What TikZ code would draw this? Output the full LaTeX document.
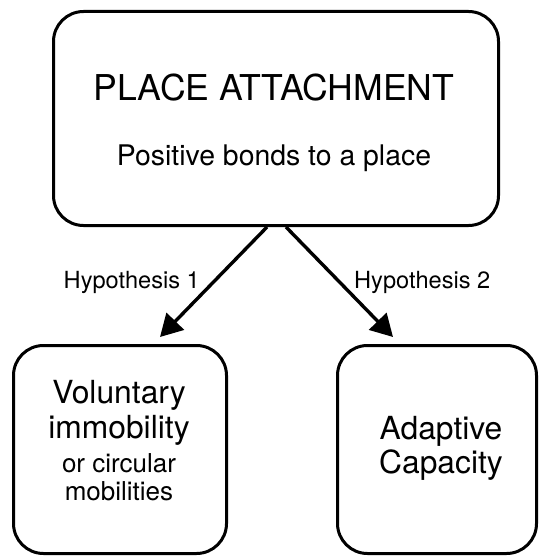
\documentclass[tikz,border=0pt]{standalone}
\usepackage{fontspec}
\setmainfont{TeX Gyre Heros}
\usepackage{tikz}
\usetikzlibrary{arrows.meta, positioning}

\begin{document}
\begin{tikzpicture}[
            x=0.5pt, y=-0.5pt, % one unit per pixel, y going down
            box/.style={draw, rounded corners=15pt, line width=1.5pt, inner sep=0pt},
            label/.style={anchor=base, inner sep=0pt},
            hypo/.style={font=\fontsize{11.8}{14}\selectfont, inner sep=0pt},
            >={Triangle[length=11pt, width=12pt]}
        ]
            \useasboundingbox (0,0) rectangle (540,556);

            \node [box, minimum width=222.5pt, minimum height=107pt] (attach) at (276,118.5) {};
            \node [box, minimum width=106.5pt, minimum height=104pt] (immob) at (120,449.5) {};
            \node [box, minimum width=99.5pt, minimum height=104pt] (adapt) at (437,449.5) {};

            % text inside the boxes
            \node [label, font=\fontsize{17.8}{20}\selectfont] (title) at (274,100) {PLACE ATTACHMENT};
            \node [label, font=\fontsize{14.2}{17}\selectfont] (bonds) at (274,165) {Positive bonds to a place};

            \node [label, font=\fontsize{15.9}{18}\selectfont] (vol) at (119,403) {Voluntary};
            \node [label, font=\fontsize{15.9}{18}\selectfont] (imm) at (119,438) {immobility};
            \node [label, font=\fontsize{13}{15}\selectfont] (circ) at (119,472) {or circular};
            \node [label, font=\fontsize{13}{15}\selectfont] (mob) at (119,500) {mobilities};

            \node [label, font=\fontsize{15.9}{18}\selectfont] (adap) at (441,439) {Adaptive};
            \node [label, font=\fontsize{15.9}{18}\selectfont] (capa) at (441,473) {Capacity};

            \draw [->, line width=1.7pt] ([xshift=-4.5pt]attach.south) -- ([xshift=20pt, yshift=3.5pt]immob.north)
                node [hypo, midway, anchor=east, xshift=-6pt] (hyp1) {Hypothesis 1};
            \draw [->, line width=1.7pt] ([xshift=5pt]attach.south) -- ([xshift=-22pt, yshift=3.5pt]adapt.north)
                node [hypo, midway, anchor=west, xshift=6.5pt] (hyp2) {Hypothesis 2};
        \end{tikzpicture}
\end{document}
